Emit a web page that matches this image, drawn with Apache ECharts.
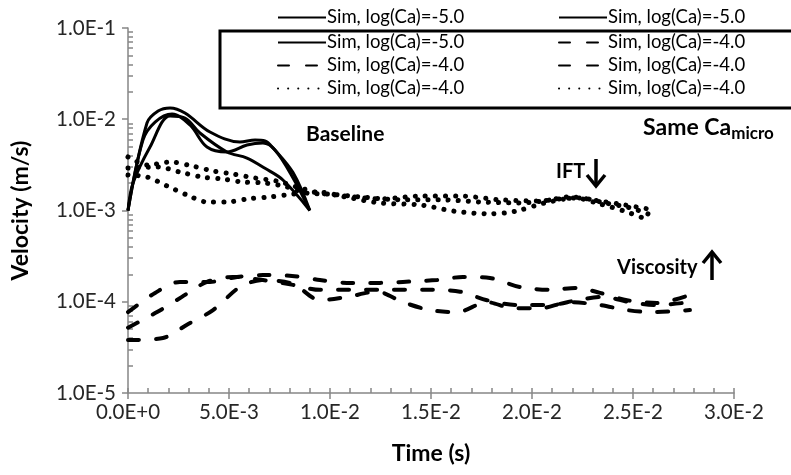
<!DOCTYPE html>
<html>
<head>
<meta charset="utf-8">
<script src="https://cdn.jsdelivr.net/npm/echarts@6/dist/echarts.min.js"></script>
<style>
html, body {margin: 0; padding: 0; background: #fff;}
#chart {width: 791px; height: 475px;}
</style>
</head>
<body>
<div id="chart"></div>
<script>
// baseline runs (solid)
const baseT1 = [0, 0.00094, 0.00149, 0.00208, 0.00282, 0.00406, 0.00554, 0.00629, 0.00678, 0.00718, 0.00817, 0.0090];
const baseV1 = [1.0e-3, 9.1e-3, 1.23e-2, 1.33e-2, 1.17e-2, 7.25e-3, 5.63e-3, 5.92e-3, 5.77e-3, 4.84e-3, 2.6e-3, 1.0e-3];
const baseT2 = [0, 0.00074, 0.00134, 0.00218, 0.00307, 0.00391, 0.0049, 0.00589, 0.00668, 0.00728, 0.00817, 0.0090];
const baseV2 = [1.0e-3, 5.9e-3, 9.3e-3, 1.14e-2, 8.65e-3, 4.96e-3, 4.38e-3, 5.22e-3, 5.49e-3, 4.6e-3, 2.27e-3, 1.0e-3];
const baseT3 = [0, 0.00025, 0.00109, 0.00208, 0.00282, 0.00356, 0.0049, 0.00589, 0.00678, 0.00767, 0.0090];
const baseV3 = [1.0e-3, 2.0e-3, 4.96e-3, 1.085e-2, 1.03e-2, 7.07e-3, 4.38e-3, 3.76e-3, 2.9e-3, 2.16e-3, 1.0e-3];

// higher viscosity runs (dashed)
const viscT1 = [0, 0.00134, 0.00257, 0.00406, 0.0054, 0.00668, 0.00812, 0.0095, 0.01084, 0.01248, 0.01361, 0.0153, 0.01658, 0.01792, 0.01941, 0.02089, 0.02223, 0.02337, 0.0247, 0.02619, 0.02782];
const viscV1 = [7.7e-5, 1.25e-4, 1.65e-4, 1.65e-4, 1.87e-4, 1.96e-4, 1.92e-4, 1.73e-4, 1.61e-4, 1.61e-4, 1.65e-4, 1.73e-4, 1.87e-4, 1.82e-4, 1.45e-4, 1.35e-4, 1.42e-4, 1.25e-4, 1.04e-4, 9.7e-5, 1.19e-4];
const viscT2 = [0, 0.00144, 0.00267, 0.00391, 0.0052, 0.00668, 0.00817, 0.0095, 0.01099, 0.01248, 0.01495, 0.01644, 0.01777, 0.01926, 0.02089, 0.02223, 0.02351, 0.02485, 0.02619, 0.02782];
const viscV2 = [5.2e-5, 7.7e-5, 1.13e-4, 1.65e-4, 1.87e-4, 1.73e-4, 1.53e-4, 1.35e-4, 1.35e-4, 1.35e-4, 1.35e-4, 1.29e-4, 1.04e-4, 9.2e-5, 9.2e-5, 1.04e-4, 1.13e-4, 9.9e-5, 9.2e-5, 9.9e-5];
const viscT3 = [0, 0.00173, 0.00292, 0.00421, 0.00554, 0.00668, 0.00817, 0.0095, 0.01084, 0.01233, 0.01361, 0.01495, 0.01629, 0.01777, 0.01906, 0.0204, 0.02188, 0.02337, 0.0247, 0.02599, 0.02782];
const viscV3 = [3.8e-5, 4.0e-5, 5.6e-5, 8.1e-5, 1.45e-4, 1.73e-4, 1.57e-4, 1.04e-4, 1.13e-4, 1.29e-4, 9.9e-5, 8.1e-5, 7.7e-5, 9.9e-5, 8.5e-5, 8.5e-5, 9.9e-5, 9.2e-5, 8.1e-5, 7.7e-5, 8.1e-5];

// lower IFT runs (dotted)
const iftT1 = [0, 0.00099, 0.00208, 0.00317, 0.00421, 0.0052, 0.00629, 0.00738, 0.00837, 0.0095, 0.01074, 0.01248, 0.01446, 0.01644, 0.01842, 0.0204, 0.02188, 0.02337, 0.0246, 0.02574];
const iftV1 = [3.86e-3, 3.15e-3, 3.40e-3, 3.08e-3, 2.71e-3, 2.51e-3, 2.27e-3, 2.10e-3, 1.81e-3, 1.55e-3, 1.44e-3, 1.34e-3, 1.44e-3, 1.44e-3, 1.31e-3, 1.27e-3, 1.41e-3, 1.27e-3, 1.15e-3, 1.04e-3];
const iftT2 = [0, 0.00149, 0.00257, 0.00366, 0.0047, 0.00569, 0.00678, 0.00787, 0.00886, 0.0100, 0.01149, 0.01347, 0.01545, 0.01743, 0.01941, 0.02139, 0.02238, 0.02361, 0.02485, 0.02574];
const iftV2 = [2.92e-3, 3.0e-3, 2.64e-3, 2.33e-3, 2.21e-3, 2.05e-3, 2.0e-3, 1.81e-3, 1.55e-3, 1.51e-3, 1.41e-3, 1.31e-3, 1.31e-3, 1.24e-3, 1.21e-3, 1.34e-3, 1.37e-3, 1.21e-3, 1.07e-3, 9.2e-4];
const iftT3 = [0, 0.00094, 0.00193, 0.00292, 0.00391, 0.0049, 0.00594, 0.00703, 0.00817, 0.0095, 0.01074, 0.01248, 0.01446, 0.01619, 0.01792, 0.01916, 0.02064, 0.02213, 0.02337, 0.0246, 0.02574];
const iftV3 = [2.45e-3, 2.33e-3, 1.86e-3, 1.48e-3, 1.24e-3, 1.24e-3, 1.34e-3, 1.41e-3, 1.51e-3, 1.59e-3, 1.41e-3, 1.21e-3, 1.15e-3, 9.8e-4, 9.2e-4, 9.8e-4, 1.21e-3, 1.37e-3, 1.18e-3, 9.8e-4, 7.9e-4];

const yMinorTicks = [];
[1e-5, 1e-4, 1e-3, 1e-2].forEach(d => {
	for (let k = 2; k <= 9; k++) yMinorTicks.push(d * k);
});

const legendText = {
	b1: 'Sim, log(Ca)=-5.0', b2: 'Sim, log(Ca)=-5.0', b3: 'Sim, log(Ca)=-5.0',
	v1: 'Sim, log(Ca)=-4.0', v2: 'Sim, log(Ca)=-4.0', v3: 'Sim, log(Ca)=-4.0',
	i1: 'Sim, log(Ca)=-4.0', i2: 'Sim, log(Ca)=-4.0', i3: 'Sim, log(Ca)=-4.0'
};
// legend slots: [series, left, top]
const legendSlots = [
	['b1', 277, 8], ['b2', 558, 8],
	['b3', 277, 33], ['v1', 558, 33],
	['v2', 277, 56], ['v3', 558, 56],
	['i1', 277, 79], ['i2', 558, 79]
];

const FONT = 'Lato';
const AXIS_GREY = '#868686';
const solid = {color: '#000', width: 3};
const dashed = {color: '#000', width: 4, type: [11, 17], cap: 'round'};
const dotted = {color: '#000', width: 5, type: [0.1, 10], cap: 'round'};

function makeSeries(name, xs, ys, lineStyle, smooth) {
	return {
		name: name,
		type: 'line',
		symbol: 'none',
		smooth: smooth,
		lineStyle: lineStyle,
		itemStyle: {color: '#000'},
		silent: true,
		data: xs.map((x, i) => [x, ys[i]])
	};
}

const fmt = v => Number(v).toExponential(1).toUpperCase();
const plotBox = {left: 128, right: 57, top: 28, bottom: 82};

const chart = echarts.init(document.getElementById('chart'));
chart.setOption({
	animation: false,
	backgroundColor: '#fff',
	textStyle: {fontFamily: FONT},
	// second grid only carries the minor ticks
	grid: [Object.assign({}, plotBox), Object.assign({}, plotBox)],
	legend: legendSlots.map(s => ({
		data: [s[0]],
		left: s[1],
		top: s[2],
		itemWidth: 48,
		itemHeight: 16,
		itemGap: 4,
		selectedMode: false,
		padding: 0,
		itemStyle: {opacity: 0},
		formatter: n => legendText[n],
		textStyle: {fontFamily: FONT, fontSize: 18.5, color: '#000', padding: [0, 0, 0, -4]}
	})),
	xAxis: [{
		type: 'value',
		gridIndex: 0,
		min: 0,
		max: 0.03,
		interval: 0.005,
		name: 'Time (s)',
		nameLocation: 'middle',
		nameGap: 49,
		nameTextStyle: {fontFamily: FONT, fontWeight: 'bold', fontSize: 23, color: '#000'},
		axisLine: {lineStyle: {color: AXIS_GREY, width: 1.5}},
		axisTick: {inside: false, length: 6, lineStyle: {color: AXIS_GREY, width: 1.5}},
		axisLabel: {formatter: fmt, fontFamily: FONT, fontSize: 20.5, color: '#262626', margin: 9},
		splitLine: {show: false}
	}, {
		type: 'value',
		gridIndex: 1,
		min: 0,
		max: 0.03,
		interval: 0.001,
		position: 'bottom',
		axisLine: {show: false},
		axisTick: {show: true, inside: true, length: 5, lineStyle: {color: AXIS_GREY, width: 1.5}},
		axisLabel: {show: false},
		splitLine: {show: false}
	}],
	yAxis: [{
		type: 'log',
		gridIndex: 0,
		logBase: 10,
		min: 1e-5,
		max: 1e-1,
		name: 'Velocity (m/s)',
		nameLocation: 'middle',
		nameGap: 96,
		nameRotate: 90,
		nameTextStyle: {fontFamily: FONT, fontWeight: 'bold', fontSize: 23, color: '#000'},
		axisLine: {show: true, lineStyle: {color: AXIS_GREY, width: 1.5}},
		axisTick: {show: true, inside: false, length: 6, lineStyle: {color: AXIS_GREY, width: 1.5}},
		axisLabel: {formatter: fmt, fontFamily: FONT, fontSize: 20.5, color: '#262626', margin: 12},
		splitLine: {show: false}
	}, {
		type: 'log',
		gridIndex: 1,
		logBase: 10,
		min: 1e-5,
		max: 1e-1,
		position: 'left',
		axisLine: {show: false},
		axisTick: {show: true, inside: true, length: 5, customValues: yMinorTicks, lineStyle: {color: AXIS_GREY, width: 1.5}},
		axisLabel: {show: false},
		splitLine: {show: false}
	}],
	series: [
		makeSeries('b1', baseT1, baseV1, solid, 0.35),
		makeSeries('b2', baseT2, baseV2, solid, 0.35),
		makeSeries('b3', baseT3, baseV3, solid, 0.35),
		makeSeries('v1', viscT1, viscV1, dashed, 0.3),
		makeSeries('v2', viscT2, viscV2, dashed, 0.3),
		makeSeries('v3', viscT3, viscV3, dashed, 0.3),
		makeSeries('i1', iftT1, iftV1, dotted, 0.3),
		makeSeries('i2', iftT2, iftV2, dotted, 0.3),
		makeSeries('i3', iftT3, iftV3, dotted, 0.3)
	],
	graphic: [
		{type: 'rect', shape: {x: 220, y: 31, width: 590, height: 77}, style: {fill: 'none', stroke: '#000', lineWidth: 3}, z: 10},
		{type: 'text', x: 306, y: 134, style: {text: 'Baseline', font: 'bold 21px ' + FONT, fill: '#000', verticalAlign: 'middle'}},
		{type: 'text', x: 643, y: 128, style: {
			text: '{a|Same Ca}{b|micro}',
			verticalAlign: 'middle',
			rich: {
				a: {font: 'bold 23px ' + FONT, fill: '#000'},
				b: {font: 'bold 17px ' + FONT, fill: '#000', padding: [12, 0, 0, 0]}
			}
		}},
		{type: 'text', x: 556, y: 172, style: {text: 'IFT', font: 'bold 20px ' + FONT, fill: '#000', verticalAlign: 'middle'}},
		{type: 'line', shape: {x1: 596, y1: 159, x2: 596, y2: 184}, style: {stroke: '#000', lineWidth: 3.5}},
		{type: 'polyline', shape: {points: [[587, 175], [596, 186], [605, 175]]}, style: {stroke: '#000', lineWidth: 3.5, fill: 'none'}},
		{type: 'text', x: 617, y: 268, style: {text: 'Viscosity', font: 'bold 20px ' + FONT, fill: '#000', verticalAlign: 'middle'}},
		{type: 'line', shape: {x1: 712, y1: 254, x2: 712, y2: 280}, style: {stroke: '#000', lineWidth: 3.5}},
		{type: 'polyline', shape: {points: [[703, 263], [712, 252], [721, 263]]}, style: {stroke: '#000', lineWidth: 3.5, fill: 'none'}}
	]
});
</script>
</body>
</html>
